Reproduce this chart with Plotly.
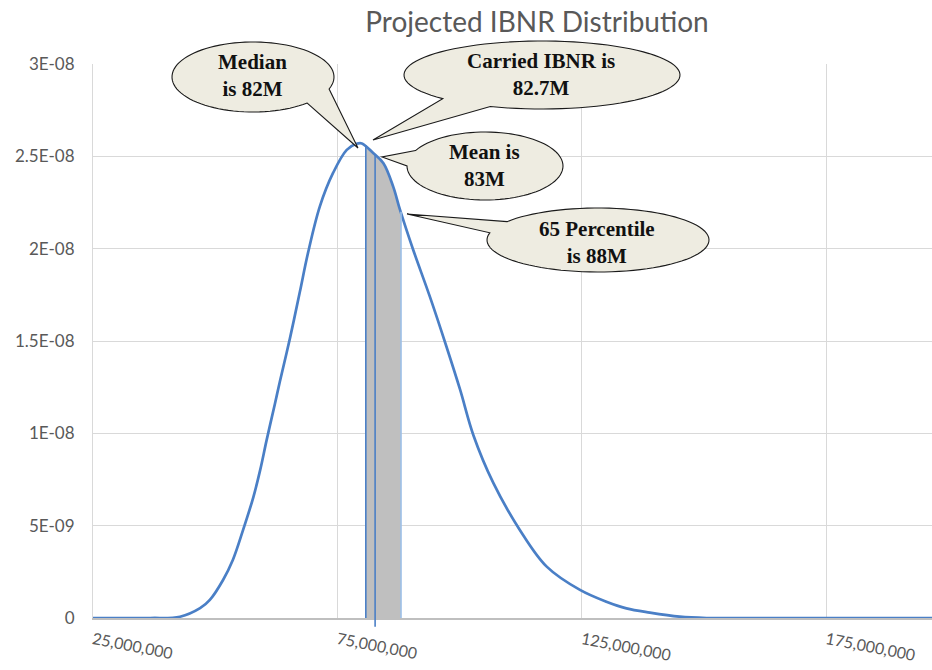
import numpy as np
import plotly.graph_objects as go

# Projected IBNR (in $ millions) and its probability density (in units of 1e-8)
ibnr_musd = [25.0, 36.7, 42.8, 46.9, 48.9, 51.6, 53.6, 55.7, 57.8, 59.2, 60.5, 62.2, 63.2,
             65.3, 67.3, 69.0, 71.4, 74.1, 76.9, 78.9, 80.0, 82.3, 84.4, 86.4, 87.8, 90.5,
             93.9, 97.3, 100.1, 102.8, 106.9, 112.3, 117.8, 124.6, 130.0, 134.1, 138.9,
             145.0, 150.5, 171.0, 196.6]
density_e8 = [0.0, 0.0, 0.007, 0.053, 0.098, 0.206, 0.314, 0.477, 0.655, 0.802, 0.962, 1.159,
              1.278, 1.517, 1.765, 1.980, 2.229, 2.410, 2.535, 2.568, 2.570, 2.518, 2.463,
              2.336, 2.210, 1.993, 1.740, 1.469, 1.235, 0.990, 0.730, 0.477, 0.278, 0.152,
              0.088, 0.052, 0.029, 0.007, 0.0, 0.0, 0.0]

# Shaded band up to the 65th percentile
band_musd = [80.8, 82.3, 84.4, 86.4, 88.0]
band_e8 = [2.56, 2.518, 2.463, 2.336, 2.20]

# Carried IBNR marker
carried_musd = 82.7
carried_top_e8 = 2.51

# Axis ticks
x_tick_vals = [25e6, 75e6, 125e6, 175e6]
x_tick_text = ["25,000,000", "75,000,000", "125,000,000", "175,000,000"]
y_tick_vals = [0, 5e-9, 1e-8, 1.5e-8, 2e-8, 2.5e-8, 3e-8]
y_tick_text = ["0", "5E-09", "1E-08", "1.5E-08", "2E-08", "2.5E-08", "3E-08"]

# Callout labels
callout_text = ["Median<br>is 82M", "Carried IBNR is<br>82.7M", "Mean is<br>83M",
                "65 Percentile<br>is 88M"]

x = np.array(ibnr_musd) * 1e6
y = np.array(density_e8) * 1e-8
bx = np.array(band_musd) * 1e6
by = np.array(band_e8) * 1e-8

W, H = 932, 670
L, R, T, B = 93, 0, 64, 52
PW, PH = W - L - R, H - T - B
Y_MAX = 3e-8


def to_paper(px, py):
    return (px - L) / PW, (H - B - py) / PH


def callout_path(cx, cy, rx, ry, tip, t_gap0, t_gap1, n=90):
    """Ellipse with a wedge tail, as an SVG path in paper coordinates."""
    ts = np.radians(np.linspace(t_gap1, t_gap0 + 360, n))
    pts = [to_paper(cx + rx * np.cos(t), cy + ry * np.sin(t)) for t in ts]
    pts.append(to_paper(*tip))
    return "M " + " L ".join(f"{a:.5f},{b:.5f}" for a, b in pts) + " Z"


BLUE = "#4a7fc6"

fig = go.Figure()

fig.add_trace(go.Scatter(
    x=bx, y=by, mode="lines", line=dict(width=0, shape="spline"),
    fill="tozeroy", fillcolor="#bfbfbf", hoverinfo="skip", showlegend=False))

fig.add_trace(go.Scatter(
    x=x, y=y, mode="lines", line=dict(color=BLUE, width=2.7, shape="spline", smoothing=1.0),
    showlegend=False))

shapes = [
    dict(type="line", xref="x", yref="y", x0=bx[0], x1=bx[0], y0=0, y1=by[0],
         line=dict(color=BLUE, width=1.6), layer="above"),
    dict(type="line", xref="x", yref="y", x0=bx[-1], x1=bx[-1], y0=0, y1=by[-1],
         line=dict(color="#9dc0e8", width=1.6), layer="above"),
    dict(type="line", xref="x", yref="paper", x0=carried_musd * 1e6, x1=carried_musd * 1e6,
         y0=-0.016, y1=carried_top_e8 * 1e-8 / Y_MAX,
         line=dict(color=BLUE, width=1.6), layer="above"),
]

# callout geometry: centre, radii, tail tip, tail gap angles (pixels, y down)
callouts = [
    dict(c=(253, 77), r=(81, 35), tip=(358, 148), gap=(20, 48), txt=(252, 76)),
    dict(c=(542, 75), r=(138, 34), tip=(373, 140), gap=(112, 136), txt=(541, 74)),
    dict(c=(485, 166), r=(78, 34), tip=(382, 157), gap=(180, 207), txt=(484, 166)),
    dict(c=(598, 240), r=(111, 32), tip=(407, 214), gap=(193, 215), txt=(597, 242)),
]

annotations = []
for co, label in zip(callouts, callout_text):
    shapes.append(dict(
        type="path", xref="paper", yref="paper",
        path=callout_path(co["c"][0], co["c"][1], co["r"][0], co["r"][1], co["tip"],
                          co["gap"][0], co["gap"][1]),
        fillcolor="#eeece1", line=dict(color="#1a1a1a", width=1.1), layer="above"))
    ax, ay = to_paper(*co["txt"])
    annotations.append(dict(
        x=ax, y=ay, xref="paper", yref="paper", text=f"<b>{label}</b>", showarrow=False,
        xanchor="center", yanchor="middle",
        font=dict(family="Liberation Serif", size=21, color="#111111")))

fig.update_layout(
    width=W, height=H,
    margin=dict(l=L, r=R, t=T, b=B, pad=0, autoexpand=False),
    paper_bgcolor="white", plot_bgcolor="white",
    title=dict(text="Projected IBNR Distribution", x=(537 - L) / PW, xref="paper",
               xanchor="center", y=1 - 22 / H, yref="container", yanchor="middle",
               font=dict(family="Lato", size=28, color="#595959")),
    xaxis=dict(range=[25e6, 196.6e6], tickvals=x_tick_vals, ticktext=x_tick_text,
               tickangle=11, showgrid=True, gridcolor="#d9d9d9", gridwidth=1,
               showline=True, linecolor="#bfbfbf", linewidth=1.5, zeroline=False,
               ticks="", ticklabelstandoff=5, automargin=False,
               tickfont=dict(family="Lato", size=16, color="#595959")),
    yaxis=dict(range=[0, Y_MAX], tickvals=y_tick_vals, ticktext=y_tick_text,
               showgrid=True, gridcolor="#d9d9d9", gridwidth=1,
               showline=True, linecolor="#d9d9d9", zeroline=False,
               ticks="", ticklabelstandoff=14, automargin=False,
               tickfont=dict(family="Lato", size=17, color="#595959")),
    shapes=shapes,
    annotations=annotations,
)

fig.write_html("out.html")
